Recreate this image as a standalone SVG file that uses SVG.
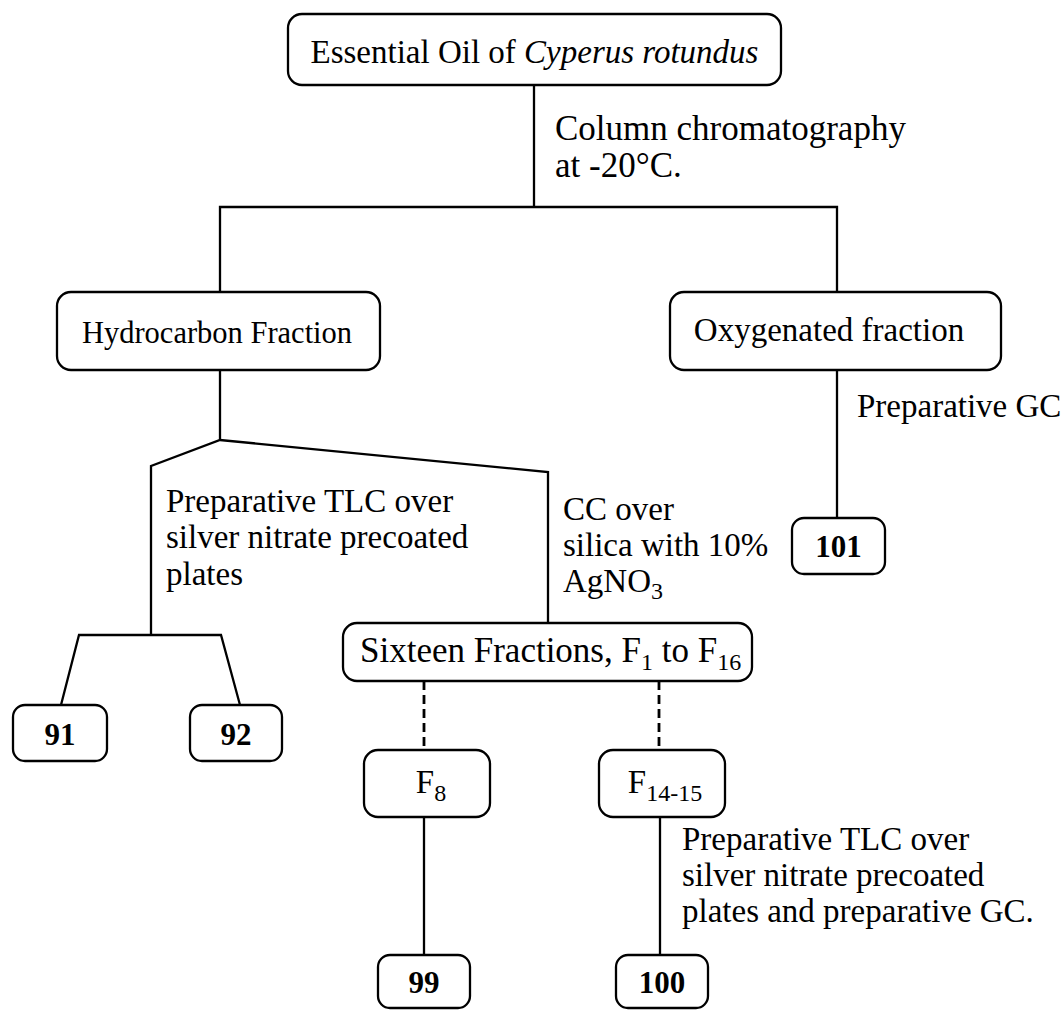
<svg xmlns="http://www.w3.org/2000/svg" width="1064" height="1010" viewBox="0 0 1064 1010">
  <style>
    .box { fill: #fff; stroke: #000; stroke-width: 2.3; }
    .line { fill: none; stroke: #000; stroke-width: 2.3; }
    .dash { fill: none; stroke: #000; stroke-width: 2.8; stroke-dasharray: 9 5; }
    text { font-family: "Liberation Serif", "Times New Roman", serif; fill: #000; }
    .t { font-size: 33px; }
    .big { font-size: 35px; }
    .num { font-size: 31px; font-weight: bold; }
    .mid { text-anchor: middle; }
    .sub { font-size: 24px; }
  </style>
  <rect width="1064" height="1010" fill="#fff"/>

  <!-- connectors -->
  <g id="connectors">
    <line class="line" x1="534" y1="85" x2="534" y2="207"/>
    <polyline class="line" points="220,292 220,207 837,207 837,292"/>
    <line class="line" x1="220" y1="370" x2="220" y2="440"/>
    <polyline class="line" points="151,635 151,466 220,440 548,472 548,623"/>
    <polyline class="line" points="61,705 79,635 221,635 240,705"/>
    <line class="line" x1="837" y1="370" x2="837" y2="518"/>
    <line class="dash" x1="424" y1="681" x2="424" y2="750"/>
    <line class="dash" x1="659" y1="681" x2="659" y2="750"/>
    <line class="line" x1="424" y1="817" x2="424" y2="955"/>
    <line class="line" x1="660" y1="817" x2="660" y2="955"/>
  </g>

  <!-- step labels -->
  <g id="labels">
    <text class="big" x="555" y="140">Column chromatography</text>
    <text class="big" x="555" y="177">at -20°C.</text>
    <text class="t" x="857" y="417">Preparative GC</text>
    <text class="t" x="166" y="512">Preparative TLC over</text>
    <text class="t" x="166" y="548">silver nitrate precoated</text>
    <text class="t" x="166" y="585">plates</text>
    <text class="t" x="563" y="520">CC over</text>
    <text class="t" x="563" y="556">silica with 10%</text>
    <text class="t" x="563" y="592">AgNO<tspan class="sub" dy="7">3</tspan></text>
    <text class="t" x="682" y="850">Preparative TLC over</text>
    <text class="t" x="682" y="886">silver nitrate precoated</text>
    <text class="t" x="682" y="922">plates and preparative GC.</text>
  </g>

  <g id="oil">
    <rect class="box" x="288" y="14" width="493" height="71" rx="14"/>
    <text class="t mid" x="534.5" y="63">Essential Oil of <tspan font-style="italic">Cyperus rotundus</tspan></text>
  </g>

  <g id="hydrocarbon">
    <rect class="box" x="57" y="292" width="323" height="78" rx="14"/>
    <text class="mid" font-size="30.5" x="217" y="343">Hydrocarbon Fraction</text>
  </g>

  <g id="oxygenated">
    <rect class="box" x="670" y="292" width="331" height="78" rx="14"/>
    <text class="t mid" x="829" y="341">Oxygenated fraction</text>
  </g>

  <g id="c101">
    <rect class="box" x="792" y="518" width="93" height="56" rx="12"/>
    <text class="num mid" x="838.5" y="557">101</text>
  </g>

  <g id="sixteen">
    <rect class="box" x="343" y="623" width="409" height="58" rx="14"/>
    <text font-size="35" x="360" y="662">Sixteen Fractions, F<tspan class="sub" font-size="25" dy="8">1</tspan><tspan dy="-8"> to F</tspan><tspan class="sub" font-size="25" dy="8">16</tspan></text>
  </g>

  <g id="c91">
    <rect class="box" x="13" y="705" width="94" height="56" rx="12"/>
    <text class="num mid" x="60" y="745">91</text>
  </g>

  <g id="c92">
    <rect class="box" x="190" y="705" width="92" height="56" rx="12"/>
    <text class="num mid" x="236" y="745">92</text>
  </g>

  <g id="f8">
    <rect class="box" x="364" y="750" width="126" height="67" rx="14"/>
    <text class="t mid" x="431" y="793">F<tspan class="sub" font-size="25" dy="8">8</tspan></text>
  </g>

  <g id="f14-15">
    <rect class="box" x="599" y="750" width="126" height="67" rx="14"/>
    <text class="t mid" x="665" y="793">F<tspan class="sub" font-size="25" dy="8">14-15</tspan></text>
  </g>

  <g id="c99">
    <rect class="box" x="378" y="955" width="92" height="53" rx="12"/>
    <text class="num mid" x="424" y="993">99</text>
  </g>

  <g id="c100">
    <rect class="box" x="616" y="955" width="92" height="53" rx="12"/>
    <text class="num mid" x="662" y="993">100</text>
  </g>
</svg>
